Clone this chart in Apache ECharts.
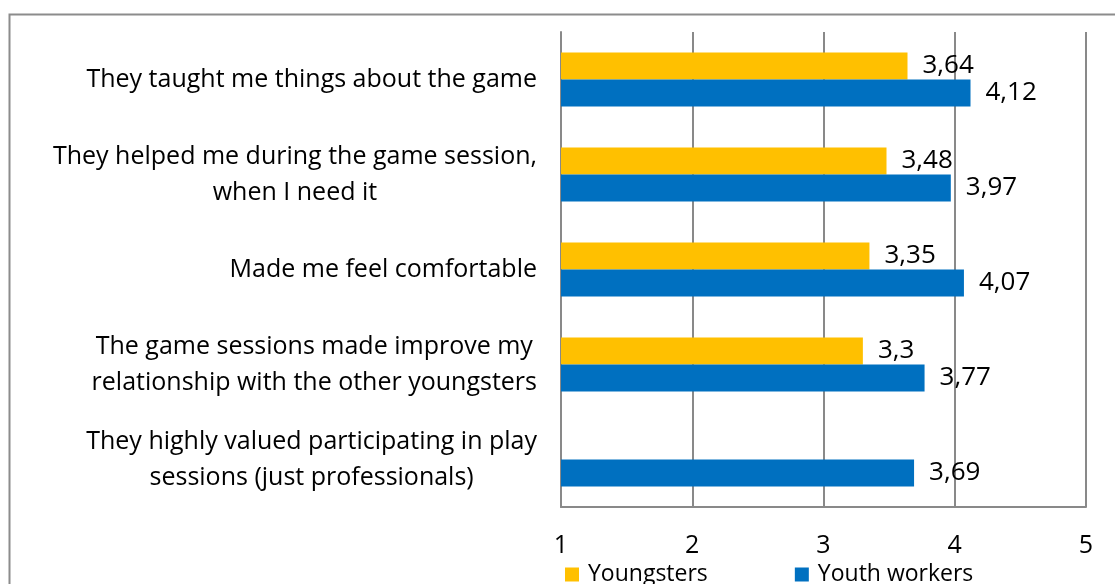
<!DOCTYPE html>
<html>
<head>
<meta charset="utf-8">
<script src="https://cdn.jsdelivr.net/npm/echarts@6/dist/echarts.min.js"></script>
<style>
  html, body { margin: 0; padding: 0; background: #fff; }
  #chart { width: 1115px; height: 584px; }
</style>
</head>
<body>
<div id="chart"></div>
<script>
// 分类（从上到下）
const categories = [
  'They taught me things about the game',
  'They helped me during the game session,\nwhen I need it',
  'Made me feel comfortable',
  'The game sessions made improve my\nrelationship with the other youngsters',
  'They highly valued participating in play\nsessions (just professionals)'
]
const youngsters = [3.64, 3.48, 3.35, 3.3, null]
const youthWorkers = [4.12, 3.97, 4.07, 3.77, 3.69]
const xTicks = [1, 2, 3, 4, 5]

const FONT = 'Open Sans'
const fmtComma = v => String(v).replace('.', ',')

const chart = echarts.init(document.getElementById('chart'))

const barLabel = {
  show: true,
  position: 'right',
  distance: 15,
  color: '#000',
  fontFamily: FONT,
  fontSize: 26,
  formatter: p => (p.value == null ? '' : fmtComma(p.value))
}

chart.setOption({
  animation: false,
  color: ['#FFC000', '#0070C0'],
  // 外框
  graphic: [{
    type: 'rect',
    left: 7,
    top: 12,
    shape: { width: 1200, height: 700 },
    style: { fill: 'none', stroke: '#8c8c8c', lineWidth: 2 },
    silent: true
  }],
  grid: { left: 561, right: 29, top: 32, bottom: 77, containLabel: false },
  legend: {
    bottom: -2,
    left: 565,
    padding: 0,
    itemGap: 87,
    itemWidth: 14,
    itemHeight: 14,
    icon: 'rect',
    textStyle: { fontFamily: FONT, fontSize: 23, color: '#000', padding: [0, 0, 0, 4] },
    data: ['Youngsters', 'Youth workers']
  },
  xAxis: {
    type: 'value',
    min: xTicks[0],
    max: xTicks[xTicks.length - 1],
    interval: 1,
    axisLine: { show: true, lineStyle: { color: '#898989', width: 2 } },
    axisTick: { show: false },
    splitLine: { show: true, lineStyle: { color: '#898989', width: 2 } },
    axisLabel: {
      margin: 26,
      color: '#000',
      fontFamily: FONT,
      fontSize: 25
    }
  },
  yAxis: {
    type: 'category',
    inverse: true,
    data: categories,
    axisLine: { show: true, lineStyle: { color: '#898989', width: 2 } },
    axisTick: { show: false },
    axisLabel: {
      margin: 24,
      color: '#000',
      fontFamily: FONT,
      fontSize: 25,
      lineHeight: 36,
      // 多行文字居中对齐
      formatter: v => v.split('\n').map(s => '{c|' + s + '}').join('\n'),
      rich: {
        c: { align: 'center', fontFamily: FONT, fontSize: 25, lineHeight: 36, color: '#000' }
      }
    }
  },
  series: [
    {
      name: 'Youngsters',
      type: 'bar',
      barWidth: 27,
      barGap: '0%',
      data: youngsters,
      label: barLabel
    },
    {
      name: 'Youth workers',
      type: 'bar',
      barWidth: 27,
      barGap: '0%',
      data: youthWorkers,
      label: barLabel
    }
  ]
})

window.addEventListener('resize', () => chart.resize())
</script>
</body>
</html>
